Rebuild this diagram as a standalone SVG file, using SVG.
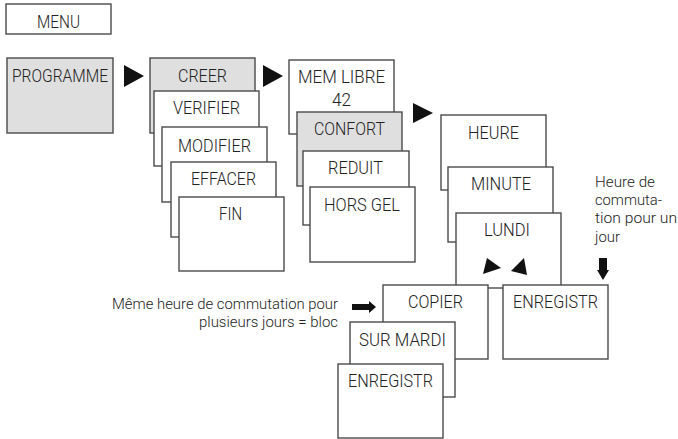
<svg xmlns="http://www.w3.org/2000/svg" width="678" height="439" viewBox="0 0 678 439">
<style>
.b{fill:#fff;stroke:#4a4a4a;stroke-width:1.4}
.g{fill:#dfdfdf;stroke:#4a4a4a;stroke-width:1.4}
.t{font-family:Roboto,"Liberation Sans",sans-serif;font-size:18.5px;fill:#222;font-weight:300}
.s{font-family:Roboto,"Liberation Sans",sans-serif;font-size:14.5px;fill:#222;font-weight:300}
.a{fill:#111}
</style>
<rect width="678" height="439" fill="#fff"/>
<g id="menu"><rect class="b" x="6" y="4" width="105" height="30"/><text class="t" x="37" y="28" textLength="43" lengthAdjust="spacingAndGlyphs">MENU</text></g>
<g id="programme"><rect class="g" x="7" y="58" width="106" height="75"/><text class="t" x="12" y="82" textLength="96" lengthAdjust="spacingAndGlyphs">PROGRAMME</text></g>
<g id="creer"><rect class="g" x="150" y="58" width="105" height="75"/><text class="t" x="178" y="82" textLength="49" lengthAdjust="spacingAndGlyphs">CREER</text></g>
<g id="verifier"><rect class="b" x="154" y="91" width="105" height="75"/><text class="t" x="173" y="114" textLength="67" lengthAdjust="spacingAndGlyphs">VERIFIER</text></g>
<g id="modifier"><rect class="b" x="162" y="127" width="105" height="75"/><text class="t" x="178" y="152" textLength="73" lengthAdjust="spacingAndGlyphs">MODIFIER</text></g>
<g id="effacer"><rect class="b" x="171" y="162" width="105" height="75"/><text class="t" x="191" y="185" textLength="65" lengthAdjust="spacingAndGlyphs">EFFACER</text></g>
<g id="fin"><rect class="b" x="179" y="197" width="105" height="74"/><text class="t" x="219" y="220" textLength="23" lengthAdjust="spacingAndGlyphs">FIN</text></g>
<g id="memlibre"><rect class="b" x="289" y="60" width="105" height="74"/><text class="t" x="298" y="83" textLength="87" lengthAdjust="spacingAndGlyphs">MEM LIBRE</text><text class="t" x="332" y="106" textLength="19" lengthAdjust="spacingAndGlyphs">42</text></g>
<g id="confort"><rect class="g" x="297" y="112" width="105" height="74"/><text class="t" x="314" y="135" textLength="71" lengthAdjust="spacingAndGlyphs">CONFORT</text></g>
<g id="reduit"><rect class="b" x="303" y="151" width="106" height="74"/><text class="t" x="328" y="174" textLength="55" lengthAdjust="spacingAndGlyphs">REDUIT</text></g>
<g id="horsgel"><rect class="b" x="310" y="187" width="105" height="75"/><text class="t" x="324" y="211" textLength="76" lengthAdjust="spacingAndGlyphs">HORS GEL</text></g>
<g id="heure"><rect class="b" x="441" y="115" width="105" height="75"/><text class="t" x="468" y="139" textLength="51" lengthAdjust="spacingAndGlyphs">HEURE</text></g>
<g id="minute"><rect class="b" x="448" y="167" width="105" height="75"/><text class="t" x="471" y="190" textLength="60" lengthAdjust="spacingAndGlyphs">MINUTE</text></g>
<g id="lundi"><rect class="b" x="456" y="213" width="105" height="75"/><text class="t" x="484" y="236" textLength="46" lengthAdjust="spacingAndGlyphs">LUNDI</text><polygon class="a" points="487,258 483,274 501,268"/><polygon class="a" points="524,258 511,271 527,275"/></g>
<g id="copier"><rect class="b" x="383" y="285" width="105" height="74"/><text class="t" x="408" y="308" textLength="55" lengthAdjust="spacingAndGlyphs">COPIER</text></g>
<g id="enregistr1"><rect class="b" x="503" y="285" width="105" height="74"/><text class="t" x="513" y="308" textLength="85" lengthAdjust="spacingAndGlyphs">ENREGISTR</text></g>
<g id="surmardi"><rect class="b" x="350" y="322" width="105" height="75"/><text class="t" x="359" y="346" textLength="87" lengthAdjust="spacingAndGlyphs">SUR MARDI</text></g>
<g id="enregistr2"><rect class="b" x="338" y="364" width="105" height="74"/><text class="t" x="348" y="387" textLength="85" lengthAdjust="spacingAndGlyphs">ENREGISTR</text></g>
<g id="note-bloc"><text class="s" x="112" y="309" textLength="226" lengthAdjust="spacingAndGlyphs">Même heure de commutation pour</text><text class="s" x="199" y="327" textLength="139" lengthAdjust="spacingAndGlyphs">plusieurs jours = bloc</text></g>
<g id="note-jour"><text class="s" x="595" y="187" textLength="60" lengthAdjust="spacingAndGlyphs">Heure de</text><text class="s" x="595" y="205" textLength="67" lengthAdjust="spacingAndGlyphs">commuta-</text><text class="s" x="595" y="223" textLength="82" lengthAdjust="spacingAndGlyphs">tion pour un</text><text class="s" x="595" y="242" textLength="25" lengthAdjust="spacingAndGlyphs">jour</text></g>
<g id="connectors">
<polygon class="a" points="124,65 124,87 144,76"/>
<polygon class="a" points="263,65 263,87 283,76"/>
<polygon class="a" points="413,103 413,123 433,113"/>
<polygon class="a" points="599,258 607,258 607,270 609,270 603,280 597,270 599,270"/>
<polygon class="a" points="352,304 369,304 369,301 376,307 369,313 369,310 352,310"/>
</g>
</svg>
